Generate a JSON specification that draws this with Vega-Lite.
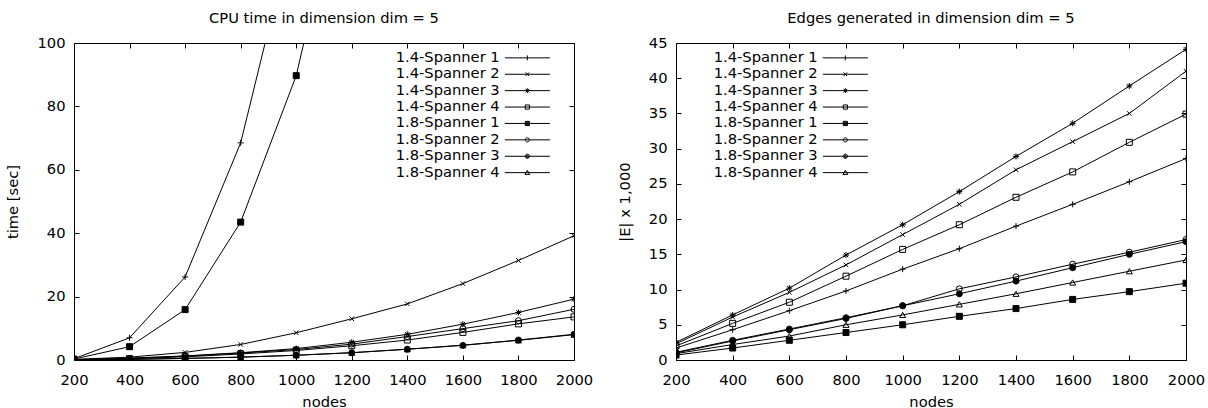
{
  "$schema": "https://vega.github.io/schema/vega-lite/v6.json",
  "padding": {"left": 5, "top": 10, "right": 5, "bottom": 0},
  "bounds": "flush",
  "spacing": 102,
  "config": {
    "font": "DejaVu Sans",
    "view": {"stroke": "black", "strokeWidth": 1},
    "axis": {"grid": false, "domain": false, "ticks": true, "zindex": 1, "tickColor": "black", "tickOpacity": 1, "tickWidth": 1, "tickSize": 5, "offset": -5, "labelFontSize": 14.7, "titleFontSize": 14.7, "labelColor": "black", "titleColor": "black", "titleFontWeight": "normal", "labelPadding": 9, "labelOverlap": false, "labelFlush": false, "format": "d"},
    "axisX": {"labelPadding": 12, "titlePadding": 8},
    "axisY": {"titlePadding": 16},
    "title": {"fontSize": 14.7, "fontWeight": "normal", "offset": 9, "baseline": "alphabetic", "color": "black", "frame": "group", "anchor": "middle"},
    "legend": {
      "title": null, "labelFontSize": 14.7, "labelColor": "black", "symbolSize": 36, "symbolStrokeWidth": 1, "symbolOpacity": 1, "symbolFillColor": "transparent", "symbolStrokeColor": "black",
      "rowPadding": 0.4, "labelOffset": 2, "padding": 0, "labelLimit": 0
    }
  },
  "datasets": {
    "cpu": [
      {"nodes": 200, "series": "1.4-Spanner 1", "value": 0.4},
      {"nodes": 400, "series": "1.4-Spanner 1", "value": 7.0},
      {"nodes": 600, "series": "1.4-Spanner 1", "value": 26.2},
      {"nodes": 800, "series": "1.4-Spanner 1", "value": 68.5},
      {"nodes": 1000, "series": "1.4-Spanner 1", "value": 140},
      {"nodes": 200, "series": "1.4-Spanner 2", "value": 0.2},
      {"nodes": 400, "series": "1.4-Spanner 2", "value": 0.9},
      {"nodes": 600, "series": "1.4-Spanner 2", "value": 2.4},
      {"nodes": 800, "series": "1.4-Spanner 2", "value": 4.9},
      {"nodes": 1000, "series": "1.4-Spanner 2", "value": 8.6},
      {"nodes": 1200, "series": "1.4-Spanner 2", "value": 13.0},
      {"nodes": 1400, "series": "1.4-Spanner 2", "value": 17.7},
      {"nodes": 1600, "series": "1.4-Spanner 2", "value": 24.1},
      {"nodes": 1800, "series": "1.4-Spanner 2", "value": 31.4},
      {"nodes": 2000, "series": "1.4-Spanner 2", "value": 39.2},
      {"nodes": 200, "series": "1.4-Spanner 3", "value": 0.1},
      {"nodes": 400, "series": "1.4-Spanner 3", "value": 0.6},
      {"nodes": 600, "series": "1.4-Spanner 3", "value": 1.3},
      {"nodes": 800, "series": "1.4-Spanner 3", "value": 2.3},
      {"nodes": 1000, "series": "1.4-Spanner 3", "value": 3.6},
      {"nodes": 1200, "series": "1.4-Spanner 3", "value": 5.6},
      {"nodes": 1400, "series": "1.4-Spanner 3", "value": 8.1},
      {"nodes": 1600, "series": "1.4-Spanner 3", "value": 11.3},
      {"nodes": 1800, "series": "1.4-Spanner 3", "value": 15.0},
      {"nodes": 2000, "series": "1.4-Spanner 3", "value": 19.2},
      {"nodes": 200, "series": "1.4-Spanner 4", "value": 0.1},
      {"nodes": 400, "series": "1.4-Spanner 4", "value": 0.4},
      {"nodes": 600, "series": "1.4-Spanner 4", "value": 1.0},
      {"nodes": 800, "series": "1.4-Spanner 4", "value": 1.9},
      {"nodes": 1000, "series": "1.4-Spanner 4", "value": 3.0},
      {"nodes": 1200, "series": "1.4-Spanner 4", "value": 4.5},
      {"nodes": 1400, "series": "1.4-Spanner 4", "value": 6.3},
      {"nodes": 1600, "series": "1.4-Spanner 4", "value": 8.7},
      {"nodes": 1800, "series": "1.4-Spanner 4", "value": 11.4},
      {"nodes": 2000, "series": "1.4-Spanner 4", "value": 13.6},
      {"nodes": 200, "series": "1.8-Spanner 1", "value": 0.3},
      {"nodes": 400, "series": "1.8-Spanner 1", "value": 4.2},
      {"nodes": 600, "series": "1.8-Spanner 1", "value": 15.9},
      {"nodes": 800, "series": "1.8-Spanner 1", "value": 43.5},
      {"nodes": 1000, "series": "1.8-Spanner 1", "value": 89.7},
      {"nodes": 1200, "series": "1.8-Spanner 1", "value": 165},
      {"nodes": 200, "series": "1.8-Spanner 2", "value": 0.1},
      {"nodes": 400, "series": "1.8-Spanner 2", "value": 0.5},
      {"nodes": 600, "series": "1.8-Spanner 2", "value": 1.2},
      {"nodes": 800, "series": "1.8-Spanner 2", "value": 2.2},
      {"nodes": 1000, "series": "1.8-Spanner 2", "value": 3.3},
      {"nodes": 1200, "series": "1.8-Spanner 2", "value": 5.0},
      {"nodes": 1400, "series": "1.8-Spanner 2", "value": 7.4},
      {"nodes": 1600, "series": "1.8-Spanner 2", "value": 9.9},
      {"nodes": 1800, "series": "1.8-Spanner 2", "value": 12.4},
      {"nodes": 2000, "series": "1.8-Spanner 2", "value": 16.0},
      {"nodes": 200, "series": "1.8-Spanner 3", "value": 0.05},
      {"nodes": 400, "series": "1.8-Spanner 3", "value": 0.2},
      {"nodes": 600, "series": "1.8-Spanner 3", "value": 0.5},
      {"nodes": 800, "series": "1.8-Spanner 3", "value": 0.9},
      {"nodes": 1000, "series": "1.8-Spanner 3", "value": 1.5},
      {"nodes": 1200, "series": "1.8-Spanner 3", "value": 2.3},
      {"nodes": 1400, "series": "1.8-Spanner 3", "value": 3.4},
      {"nodes": 1600, "series": "1.8-Spanner 3", "value": 4.6},
      {"nodes": 1800, "series": "1.8-Spanner 3", "value": 6.3},
      {"nodes": 2000, "series": "1.8-Spanner 3", "value": 8.1},
      {"nodes": 200, "series": "1.8-Spanner 4", "value": 0.05},
      {"nodes": 400, "series": "1.8-Spanner 4", "value": 0.2},
      {"nodes": 600, "series": "1.8-Spanner 4", "value": 0.5},
      {"nodes": 800, "series": "1.8-Spanner 4", "value": 0.9},
      {"nodes": 1000, "series": "1.8-Spanner 4", "value": 1.5},
      {"nodes": 1200, "series": "1.8-Spanner 4", "value": 2.3},
      {"nodes": 1400, "series": "1.8-Spanner 4", "value": 3.4},
      {"nodes": 1600, "series": "1.8-Spanner 4", "value": 4.7},
      {"nodes": 1800, "series": "1.8-Spanner 4", "value": 6.2},
      {"nodes": 2000, "series": "1.8-Spanner 4", "value": 8.0}
    ],
    "edges": [
      {"nodes": 200, "series": "1.4-Spanner 1", "value": 1.7},
      {"nodes": 400, "series": "1.4-Spanner 1", "value": 4.3},
      {"nodes": 600, "series": "1.4-Spanner 1", "value": 7.0},
      {"nodes": 800, "series": "1.4-Spanner 1", "value": 9.8},
      {"nodes": 1000, "series": "1.4-Spanner 1", "value": 12.9},
      {"nodes": 1200, "series": "1.4-Spanner 1", "value": 15.8},
      {"nodes": 1400, "series": "1.4-Spanner 1", "value": 19.0},
      {"nodes": 1600, "series": "1.4-Spanner 1", "value": 22.1},
      {"nodes": 1800, "series": "1.4-Spanner 1", "value": 25.3},
      {"nodes": 2000, "series": "1.4-Spanner 1", "value": 28.6},
      {"nodes": 200, "series": "1.4-Spanner 2", "value": 2.3},
      {"nodes": 400, "series": "1.4-Spanner 2", "value": 6.1},
      {"nodes": 600, "series": "1.4-Spanner 2", "value": 9.6},
      {"nodes": 800, "series": "1.4-Spanner 2", "value": 13.5},
      {"nodes": 1000, "series": "1.4-Spanner 2", "value": 17.8},
      {"nodes": 1200, "series": "1.4-Spanner 2", "value": 22.1},
      {"nodes": 1400, "series": "1.4-Spanner 2", "value": 27.0},
      {"nodes": 1600, "series": "1.4-Spanner 2", "value": 31.0},
      {"nodes": 1800, "series": "1.4-Spanner 2", "value": 35.0},
      {"nodes": 2000, "series": "1.4-Spanner 2", "value": 41.0},
      {"nodes": 200, "series": "1.4-Spanner 3", "value": 2.5},
      {"nodes": 400, "series": "1.4-Spanner 3", "value": 6.4},
      {"nodes": 600, "series": "1.4-Spanner 3", "value": 10.2},
      {"nodes": 800, "series": "1.4-Spanner 3", "value": 14.9},
      {"nodes": 1000, "series": "1.4-Spanner 3", "value": 19.2},
      {"nodes": 1200, "series": "1.4-Spanner 3", "value": 23.9},
      {"nodes": 1400, "series": "1.4-Spanner 3", "value": 28.9},
      {"nodes": 1600, "series": "1.4-Spanner 3", "value": 33.6},
      {"nodes": 1800, "series": "1.4-Spanner 3", "value": 38.9},
      {"nodes": 2000, "series": "1.4-Spanner 3", "value": 44.1},
      {"nodes": 200, "series": "1.4-Spanner 4", "value": 2.0},
      {"nodes": 400, "series": "1.4-Spanner 4", "value": 5.2},
      {"nodes": 600, "series": "1.4-Spanner 4", "value": 8.2},
      {"nodes": 800, "series": "1.4-Spanner 4", "value": 11.9},
      {"nodes": 1000, "series": "1.4-Spanner 4", "value": 15.7},
      {"nodes": 1200, "series": "1.4-Spanner 4", "value": 19.2},
      {"nodes": 1400, "series": "1.4-Spanner 4", "value": 23.1},
      {"nodes": 1600, "series": "1.4-Spanner 4", "value": 26.7},
      {"nodes": 1800, "series": "1.4-Spanner 4", "value": 30.9},
      {"nodes": 2000, "series": "1.4-Spanner 4", "value": 34.9},
      {"nodes": 200, "series": "1.8-Spanner 1", "value": 0.7},
      {"nodes": 400, "series": "1.8-Spanner 1", "value": 1.7},
      {"nodes": 600, "series": "1.8-Spanner 1", "value": 2.8},
      {"nodes": 800, "series": "1.8-Spanner 1", "value": 3.9},
      {"nodes": 1000, "series": "1.8-Spanner 1", "value": 5.0},
      {"nodes": 1200, "series": "1.8-Spanner 1", "value": 6.2},
      {"nodes": 1400, "series": "1.8-Spanner 1", "value": 7.3},
      {"nodes": 1600, "series": "1.8-Spanner 1", "value": 8.6},
      {"nodes": 1800, "series": "1.8-Spanner 1", "value": 9.7},
      {"nodes": 2000, "series": "1.8-Spanner 1", "value": 10.9},
      {"nodes": 200, "series": "1.8-Spanner 2", "value": 1.1},
      {"nodes": 400, "series": "1.8-Spanner 2", "value": 2.8},
      {"nodes": 600, "series": "1.8-Spanner 2", "value": 4.4},
      {"nodes": 800, "series": "1.8-Spanner 2", "value": 6.0},
      {"nodes": 1000, "series": "1.8-Spanner 2", "value": 7.7},
      {"nodes": 1200, "series": "1.8-Spanner 2", "value": 10.1},
      {"nodes": 1400, "series": "1.8-Spanner 2", "value": 11.8},
      {"nodes": 1600, "series": "1.8-Spanner 2", "value": 13.6},
      {"nodes": 1800, "series": "1.8-Spanner 2", "value": 15.3},
      {"nodes": 2000, "series": "1.8-Spanner 2", "value": 17.1},
      {"nodes": 200, "series": "1.8-Spanner 3", "value": 1.0},
      {"nodes": 400, "series": "1.8-Spanner 3", "value": 2.7},
      {"nodes": 600, "series": "1.8-Spanner 3", "value": 4.3},
      {"nodes": 800, "series": "1.8-Spanner 3", "value": 5.9},
      {"nodes": 1000, "series": "1.8-Spanner 3", "value": 7.7},
      {"nodes": 1200, "series": "1.8-Spanner 3", "value": 9.4},
      {"nodes": 1400, "series": "1.8-Spanner 3", "value": 11.2},
      {"nodes": 1600, "series": "1.8-Spanner 3", "value": 13.1},
      {"nodes": 1800, "series": "1.8-Spanner 3", "value": 15.0},
      {"nodes": 2000, "series": "1.8-Spanner 3", "value": 16.8},
      {"nodes": 200, "series": "1.8-Spanner 4", "value": 0.9},
      {"nodes": 400, "series": "1.8-Spanner 4", "value": 2.2},
      {"nodes": 600, "series": "1.8-Spanner 4", "value": 3.4},
      {"nodes": 800, "series": "1.8-Spanner 4", "value": 5.0},
      {"nodes": 1000, "series": "1.8-Spanner 4", "value": 6.4},
      {"nodes": 1200, "series": "1.8-Spanner 4", "value": 7.9},
      {"nodes": 1400, "series": "1.8-Spanner 4", "value": 9.4},
      {"nodes": 1600, "series": "1.8-Spanner 4", "value": 11.0},
      {"nodes": 1800, "series": "1.8-Spanner 4", "value": 12.6},
      {"nodes": 2000, "series": "1.8-Spanner 4", "value": 14.2}
    ]
  },
  "resolve": {"scale": {"shape": "independent", "fill": "independent"}, "legend": {"shape": "independent"}},
  "hconcat": [
    {
      "width": 500, "height": 317,
      "title": "CPU time in dimension dim = 5",
      "data": {"name": "cpu"},
      "resolve": {"axis": {"x": "independent", "y": "independent"}, "scale": {"shape": "independent"}},
      "layer": [
        {
          "mark": {"type": "line", "color": "black", "strokeWidth": 1, "clip": true},
          "encoding": {
            "x": {"field": "nodes", "type": "quantitative", "scale": {"domain": [200, 2000], "nice": false, "zero": false}, "axis": {"values": [200, 400, 600, 800, 1000, 1200, 1400, 1600, 1800, 2000], "title": "nodes"}},
            "y": {"field": "value", "type": "quantitative", "scale": {"domain": [0, 100], "nice": false}, "axis": {"values": [0, 20, 40, 60, 80, 100], "title": "time [sec]"}},
            "detail": {"field": "series", "type": "nominal"}
          }
        },
        {
          "mark": {"type": "point", "clip": true, "stroke": "black", "strokeWidth": 1, "size": 36, "opacity": 1},
          "encoding": {
            "x": {"field": "nodes", "type": "quantitative", "axis": null},
            "y": {"field": "value", "type": "quantitative", "axis": null},
            "shape": {"field": "series", "type": "nominal",
              "scale": {"domain": ["1.4-Spanner 1", "1.4-Spanner 2", "1.4-Spanner 3", "1.4-Spanner 4", "1.8-Spanner 1", "1.8-Spanner 2", "1.8-Spanner 3", "1.8-Spanner 4"],
                "range": ["M-1,0L1,0M0,-1L0,1", "M-0.75,-0.75L0.75,0.75M-0.75,0.75L0.75,-0.75", "M-1,0L1,0M0,-1L0,1M-0.75,-0.75L0.75,0.75M-0.75,0.75L0.75,-0.75", "square", "square", "circle", "circle", "triangle-up"]},
              "legend": null
            },
            "fill": {"field": "series", "type": "nominal",
              "scale": {"domain": ["1.4-Spanner 1", "1.4-Spanner 2", "1.4-Spanner 3", "1.4-Spanner 4", "1.8-Spanner 1", "1.8-Spanner 2", "1.8-Spanner 3", "1.8-Spanner 4"],
                "range": ["transparent", "transparent", "transparent", "transparent", "black", "transparent", "black", "transparent"]},
              "legend": null}
          }
        },
        {
          "mark": {"type": "point", "opacity": 0, "clip": true},
          "encoding": {
            "x": {"field": "nodes", "type": "quantitative", "axis": {"orient": "top", "values": [200, 400, 600, 800, 1000, 1200, 1400, 1600, 1800, 2000], "labels": false, "title": null}},
            "y": {"field": "value", "type": "quantitative", "axis": {"orient": "right", "values": [0, 20, 40, 60, 80, 100], "labels": false, "title": null}}
          }
        },
        {
          "mark": {"type": "point", "opacity": 0, "clip": true, "stroke": "black", "strokeWidth": 1},
          "encoding": {
            "x": {"field": "nodes", "type": "quantitative", "axis": null},
            "y": {"field": "value", "type": "quantitative", "axis": null},
            "shape": {"field": "series", "type": "nominal",
              "scale": {"domain": ["1.4-Spanner 1", "1.4-Spanner 2", "1.4-Spanner 3", "1.4-Spanner 4", "1.8-Spanner 1", "1.8-Spanner 2", "1.8-Spanner 3", "1.8-Spanner 4"],
                "range": ["M39.5,0L54.5,0M47,-0.8L47,0.8", "M39.5,0L54.5,0M46.4,-0.6L47.6,0.6M46.4,0.6L47.6,-0.6", "M39.5,0L54.5,0M47,-0.8L47,0.8M46.4,-0.6L47.6,0.6M46.4,0.6L47.6,-0.6", "M39.5,0L54.5,0M46.3,-0.7L47.7,-0.7L47.7,0.7L46.3,0.7Z", "M39.5,0L54.5,0M46.3,-0.7L47.7,-0.7L47.7,0.7L46.3,0.7ZM46.3,-0.4L47.7,-0.4M46.3,-0.1L47.7,-0.1M46.3,0.2L47.7,0.2M46.3,0.45L47.7,0.45", "M39.5,0L54.5,0M46.3,0A0.7,0.7,0,1,1,47.7,0A0.7,0.7,0,1,1,46.3,0Z", "M39.5,0L54.5,0M46.3,0A0.7,0.7,0,1,1,47.7,0A0.7,0.7,0,1,1,46.3,0ZM46.6,-0.35L47.4,-0.35M46.6,0.35L47.4,0.35", "M39.5,0L54.5,0M47,-0.8L47.8,0.6L46.2,0.6Z"]},
              "legend": {"orient": "none", "legendX": 305, "legendY": 7.5, "symbolOpacity": 1}
            }
          }
        }
      ]
    },
    {
      "width": 510, "height": 317,
      "title": "Edges generated in dimension dim = 5",
      "data": {"name": "edges"},
      "resolve": {"axis": {"x": "independent", "y": "independent"}, "scale": {"shape": "independent"}},
      "layer": [
        {
          "mark": {"type": "line", "color": "black", "strokeWidth": 1, "clip": true},
          "encoding": {
            "x": {"field": "nodes", "type": "quantitative", "scale": {"domain": [200, 2000], "nice": false, "zero": false}, "axis": {"values": [200, 400, 600, 800, 1000, 1200, 1400, 1600, 1800, 2000], "title": "nodes"}},
            "y": {"field": "value", "type": "quantitative", "scale": {"domain": [0, 45], "nice": false}, "axis": {"values": [0, 5, 10, 15, 20, 25, 30, 35, 40, 45], "title": "|E| x 1,000"}},
            "detail": {"field": "series", "type": "nominal"}
          }
        },
        {
          "mark": {"type": "point", "clip": true, "stroke": "black", "strokeWidth": 1, "size": 36, "opacity": 1},
          "encoding": {
            "x": {"field": "nodes", "type": "quantitative", "axis": null},
            "y": {"field": "value", "type": "quantitative", "axis": null},
            "shape": {"field": "series", "type": "nominal",
              "scale": {"domain": ["1.4-Spanner 1", "1.4-Spanner 2", "1.4-Spanner 3", "1.4-Spanner 4", "1.8-Spanner 1", "1.8-Spanner 2", "1.8-Spanner 3", "1.8-Spanner 4"],
                "range": ["M-1,0L1,0M0,-1L0,1", "M-0.75,-0.75L0.75,0.75M-0.75,0.75L0.75,-0.75", "M-1,0L1,0M0,-1L0,1M-0.75,-0.75L0.75,0.75M-0.75,0.75L0.75,-0.75", "square", "square", "circle", "circle", "triangle-up"]},
              "legend": null
            },
            "fill": {"field": "series", "type": "nominal",
              "scale": {"domain": ["1.4-Spanner 1", "1.4-Spanner 2", "1.4-Spanner 3", "1.4-Spanner 4", "1.8-Spanner 1", "1.8-Spanner 2", "1.8-Spanner 3", "1.8-Spanner 4"],
                "range": ["transparent", "transparent", "transparent", "transparent", "black", "transparent", "black", "transparent"]},
              "legend": null}
          }
        },
        {
          "mark": {"type": "point", "opacity": 0, "clip": true},
          "encoding": {
            "x": {"field": "nodes", "type": "quantitative", "axis": {"orient": "top", "values": [200, 400, 600, 800, 1000, 1200, 1400, 1600, 1800, 2000], "labels": false, "title": null}},
            "y": {"field": "value", "type": "quantitative", "axis": {"orient": "right", "values": [0, 5, 10, 15, 20, 25, 30, 35, 40, 45], "labels": false, "title": null}}
          }
        },
        {
          "mark": {"type": "point", "opacity": 0, "clip": true, "stroke": "black", "strokeWidth": 1},
          "encoding": {
            "x": {"field": "nodes", "type": "quantitative", "axis": null},
            "y": {"field": "value", "type": "quantitative", "axis": null},
            "shape": {"field": "series", "type": "nominal",
              "scale": {"domain": ["1.4-Spanner 1", "1.4-Spanner 2", "1.4-Spanner 3", "1.4-Spanner 4", "1.8-Spanner 1", "1.8-Spanner 2", "1.8-Spanner 3", "1.8-Spanner 4"],
                "range": ["M39.5,0L54.5,0M47,-0.8L47,0.8", "M39.5,0L54.5,0M46.4,-0.6L47.6,0.6M46.4,0.6L47.6,-0.6", "M39.5,0L54.5,0M47,-0.8L47,0.8M46.4,-0.6L47.6,0.6M46.4,0.6L47.6,-0.6", "M39.5,0L54.5,0M46.3,-0.7L47.7,-0.7L47.7,0.7L46.3,0.7Z", "M39.5,0L54.5,0M46.3,-0.7L47.7,-0.7L47.7,0.7L46.3,0.7ZM46.3,-0.4L47.7,-0.4M46.3,-0.1L47.7,-0.1M46.3,0.2L47.7,0.2M46.3,0.45L47.7,0.45", "M39.5,0L54.5,0M46.3,0A0.7,0.7,0,1,1,47.7,0A0.7,0.7,0,1,1,46.3,0Z", "M39.5,0L54.5,0M46.3,0A0.7,0.7,0,1,1,47.7,0A0.7,0.7,0,1,1,46.3,0ZM46.6,-0.35L47.4,-0.35M46.6,0.35L47.4,0.35", "M39.5,0L54.5,0M47,-0.8L47.8,0.6L46.2,0.6Z"]},
              "legend": {"orient": "none", "legendX": 21, "legendY": 7.5, "symbolOpacity": 1}
            }
          }
        }
      ]
    }
  ]
}
